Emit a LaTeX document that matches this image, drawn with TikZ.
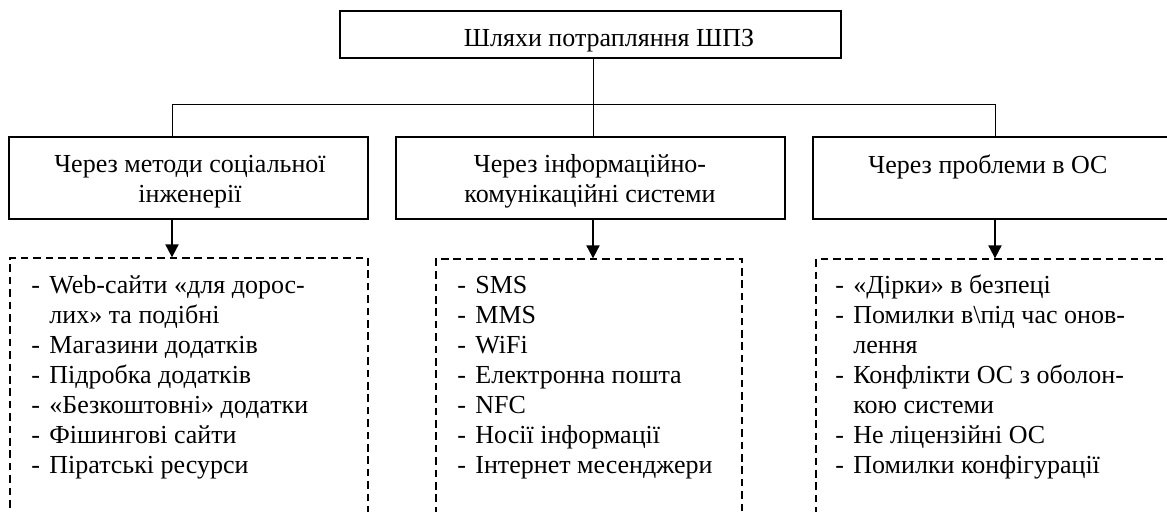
\documentclass[tikz,border=0pt]{standalone}
\usepackage{fontspec}
\setmainfont{Liberation Serif}
\usetikzlibrary{arrows.meta,fit}
\newcommand\lmark{\makebox[9pt][l]{-}}
\newcommand\lind{\hspace*{9pt}}
\begin{document}
\begin{tikzpicture}[x=0.5pt,y=-0.5pt,
  box/.style={draw,line width=0.75pt,inner sep=0pt},
  dbox/.style={draw,line width=0.65pt,dash pattern=on 3.8pt off 2.4pt,inner sep=0pt},
  conn/.style={line width=0.5pt},
  arr/.style={line width=1pt,-{Triangle[length=6.5pt,width=6.5pt]}},
  txt/.style={font=\fontsize{13}{15}\selectfont,inner sep=0pt},
]
\useasboundingbox (0,0) rectangle (1167,512);
\clip (0,0) rectangle (1167,512);

% top box
\node[box,fit={(340,11) (841,58)}] (top) {};
\node[txt,anchor=base] (toptxt) at (609,47) {Шляхи потрапляння ШПЗ};

% second level
\node[box,fit={(9,137) (368,219)}] (b1) {};
\node[box,fit={(396,137) (785,219)}] (b2) {};
\node[box,fit={(813,137) (1180,219)}] (b3) {};
\node[txt,anchor=base] (t1) at (190,173) {\begin{tabular}[t]{@{}c@{}}Через методи соціальної\\інженерії\end{tabular}};
\node[txt,anchor=base] (t2) at (590,173) {\begin{tabular}[t]{@{}c@{}}Через інформаційно-\\комунікаційні системи\end{tabular}};
\node[txt,anchor=base] (t3) at (988,174) {Через проблеми в ОС};

% dashed boxes
\node[dbox,fit={(10,258) (368,540)}] (d1) {};
\node[dbox,fit={(436,259) (742,540)}] (d2) {};
\node[dbox,fit={(816,259) (1190,540)}] (d3) {};

\node[txt,anchor=base west] (l1) at (31,294) {\begin{tabular}[t]{@{}l@{}}
\lmark Web-сайти «для дорос-\\
\lind лих» та подібні\\
\lmark Магазини додатків\\
\lmark Підробка додатків\\
\lmark «Безкоштовні» додатки\\
\lmark Фішингові сайти\\
\lmark Піратські ресурси
\end{tabular}};
\node[txt,anchor=base west] (l2) at (457,294) {\begin{tabular}[t]{@{}l@{}}
\lmark SMS\\
\lmark MMS\\
\lmark WiFi\\
\lmark Електронна пошта\\
\lmark NFC\\
\lmark Носії інформації\\
\lmark Інтернет месенджери
\end{tabular}};
\node[txt,anchor=base west] (l3) at (835,294) {\begin{tabular}[t]{@{}l@{}}
\lmark «Дірки» в безпеці\\
\lmark Помилки в\textbackslash під час онов-\\
\lind лення\\
\lmark Конфлікти ОС з оболон-\\
\lind кою системи\\
\lmark Не ліцензійні ОС\\
\lmark Помилки конфігурації
\end{tabular}};

% connectors
\coordinate (cx1) at (172,0);
\coordinate (cx2) at (593,0);
\coordinate (cx3) at (995,0);
\coordinate (hy) at (0,105);
\draw[conn] (top.south -| cx2) -- (b2.north -| cx2);
\draw[conn] (b1.north -| cx1) -- (hy -| cx1) -- (hy -| cx3) -- (b3.north -| cx3);
\draw[arr] (b1.south -| cx1) -- (d1.north -| cx1);
\draw[arr] (b2.south -| cx2) -- (d2.north -| cx2);
\draw[arr] (b3.south -| cx3) -- (d3.north -| cx3);
\end{tikzpicture}
\end{document}
